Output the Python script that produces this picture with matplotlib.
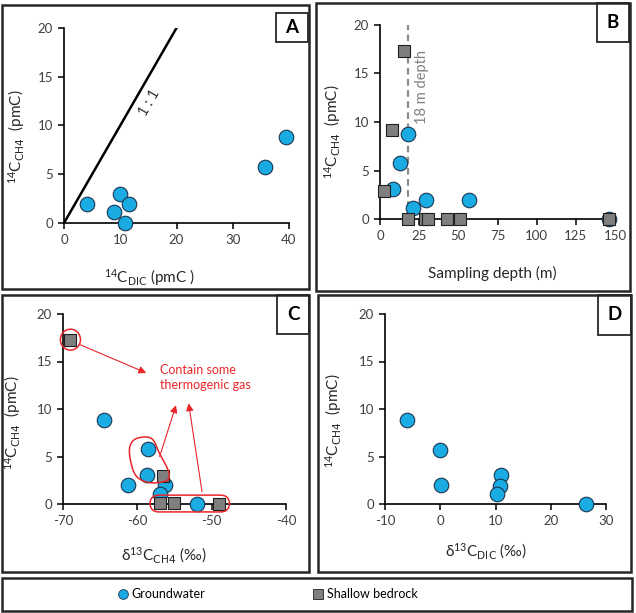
import numpy as np
import matplotlib
matplotlib.use("Agg")
import matplotlib.pyplot as plt
from matplotlib.patches import Rectangle, Ellipse, FancyBboxPatch, Polygon
from matplotlib.lines import Line2D

plt.rcParams['font.family'] = ['Lato', 'DejaVu Sans']
plt.rcParams['mathtext.default'] = 'regular'
plt.rcParams['axes.unicode_minus'] = False

# --- data ---
# A: 14C DIC vs 14C CH4 (groundwater)
a_dic = [4.0, 8.8, 10.0, 11.6, 10.8, 35.8, 39.4]
a_ch4 = [1.9, 1.1, 3.0, 1.9, 0.05, 5.7, 8.8]

# B: sampling depth vs 14C CH4
b_gw_depth = [8.1, 12.6, 17.7, 21.0, 29.4, 57.0, 146.0]
b_gw_ch4 = [3.1, 5.8, 8.8, 1.1, 2.0, 1.95, 0.0]
b_br_depth = [2.8, 7.5, 15.0, 18.0, 29.0, 30.5, 43.0, 51.0, 146.0]
b_br_ch4 = [2.9, 9.2, 17.3, 0.05, 0.05, 0.05, 0.05, 0.05, 0.05]
depth_cut = 18

# C: d13C CH4 vs 14C CH4
c_gw_d13 = [-64.5, -58.5, -58.7, -61.2, -56.3, -57.0, -52.0]
c_gw_ch4 = [8.85, 5.75, 3.1, 2.0, 2.0, 1.1, 0.03]
c_br_d13 = [-69.0, -56.5, -57.0, -55.1, -49.0]
c_br_ch4 = [17.3, 3.0, 0.07, 0.1, 0.05]

# D: d13C DIC vs 14C CH4 (groundwater)
d_d13 = [-6.0, 0.0, 0.2, 11.0, 10.8, 10.2, 26.4]
d_ch4 = [8.8, 5.7, 2.05, 3.05, 1.9, 1.1, 0.0]

W, H = 636, 613
fig = plt.figure(figsize=(W / 100, H / 100), dpi=100)

BLUE = '#1AABE3'
GREY = '#7F7F7F'
RED = '#E8262A'
ylab = r'$^{14}$C$_{\rm CH4}$  (pmC)'


def px_axes(l, t, r, b):
    return fig.add_axes([l / W, 1 - b / H, (r - l) / W, (b - t) / H])


def px_box(l, t, r, b, lw=1.8):
    fig.patches.append(Rectangle((l / W, 1 - b / H), (r - l) / W, (b - t) / H,
                                 transform=fig.transFigure, fill=False,
                                 edgecolor='#262626', lw=lw))


def letter(l, t, r, b, s):
    px_box(l, t, r, b, lw=1.3)
    fig.text((l + r) / 2 / W, 1 - (t + b) / 2 / H, s, ha='center', va='center',
             fontsize=13.5, fontweight='bold', color='black')


def style(ax, xlim, xticks):
    ax.set_xlim(*xlim)
    ax.set_ylim(0, 20)
    ax.set_xticks(xticks)
    ax.set_yticks([0, 5, 10, 15, 20])
    for s in ['top', 'right']:
        ax.spines[s].set_visible(False)
    for s in ['left', 'bottom']:
        ax.spines[s].set_linewidth(1.2)
        ax.spines[s].set_color('black')
    ax.tick_params(direction='out', length=4, width=1.1, labelsize=9.5,
                   colors='black', labelcolor='#404040', pad=4)
    ax.patch.set_alpha(0)


def labels(ax, xl, xpos, ypos):
    ax.set_xlabel(xl, fontsize=11, color='#262626', va='center')
    ax.xaxis.set_label_coords(*xpos)
    ax.set_ylabel(ylab, fontsize=11, color='#262626', va='center')
    ax.yaxis.set_label_coords(*ypos)


def gw(ax, x, y):
    ax.scatter(x, y, s=110, c=BLUE, edgecolors='#1a3550', linewidths=0.8,
               zorder=3, clip_on=False)


def br(ax, x, y):
    ax.scatter(x, y, marker='s', s=70, c=GREY, edgecolors='#202020',
               linewidths=0.8, zorder=4, clip_on=False)


# panel frames
px_box(2, 5, 309, 289)
px_box(316, 3, 630, 291)
px_box(2, 295, 309, 572)
px_box(318, 295, 631, 572)
px_box(2, 578, 632, 611)

# ---- A ----
ax = px_axes(64, 28, 289, 223)
style(ax, (0, 40), [0, 10, 20, 30, 40])
ax.plot([0, 20], [0, 20], color='black', lw=1.8, zorder=2)
ax.text(15.3, 12.3, '1 : 1', rotation=60, ha='center', va='center',
        fontsize=10.5, color='#333333')
gw(ax, a_dic, a_ch4)
labels(ax, r'$^{14}$C$_{\rm DIC}$ (pmC )', (0.38, -0.28), (-0.21, 0.44))
letter(276, 13, 308, 42, 'A')

# ---- B ----
ax = px_axes(380, 25, 615, 219)
style(ax, (0, 150), [0, 25, 50, 75, 100, 125, 150])
ax.plot([depth_cut, depth_cut], [0, 20], color='#8C8C8C', lw=1.6,
        ls=(0, (3, 2)), zorder=2)
ax.text(depth_cut + 8.5, 13.6, '18 m depth', rotation=90, ha='center',
        va='center', fontsize=10.5, color='#808080')
gw(ax, b_gw_depth, b_gw_ch4)
br(ax, b_br_depth, b_br_ch4)
labels(ax, 'Sampling depth (m)', (0.477, -0.28), (-0.2, 0.45))
letter(597, 3, 629, 42, 'B')

# ---- C ----
ax = px_axes(63, 314, 286, 504)
style(ax, (-70, -40), [-70, -60, -50, -40])
gw(ax, c_gw_d13, c_gw_ch4)
br(ax, c_br_d13, c_br_ch4)
ax.add_patch(Ellipse((-69.0, 17.3), 2.7, 2.2, fill=False, ec=RED, lw=1.1,
                     clip_on=False, zorder=5))
blob = np.array([(-61.0, 6.05), (-60.1, 6.9), (-58.1, 6.9), (-57.0, 5.3),
                 (-55.8, 3.4), (-56.05, 2.46), (-58.3, 2.25), (-60.1, 2.9),
                 (-60.9, 4.5)])
# smooth closed outline (Catmull-Rom)
pts = []
n = len(blob)
for i in range(n):
    p0, p1, p2, p3 = blob[i - 1], blob[i], blob[(i + 1) % n], blob[(i + 2) % n]
    for t in np.linspace(0, 1, 12, endpoint=False):
        pts.append(0.5 * ((2 * p1) + (-p0 + p2) * t
                          + (2 * p0 - 5 * p1 + 4 * p2 - p3) * t ** 2
                          + (-p0 + 3 * p1 - 3 * p2 + p3) * t ** 3))
ax.add_patch(Polygon(pts, closed=True, fill=False, ec=RED, lw=1.1, zorder=5))
ax.add_patch(FancyBboxPatch((-58.0, -0.6), 10.1, 1.3,
                            boxstyle='round,pad=0.3,rounding_size=1.2',
                            mutation_aspect=0.78, fill=False, ec=RED, lw=1.1,
                            clip_on=False, zorder=5))
arrow = dict(arrowstyle='-|>', color=RED, lw=0.8, mutation_scale=11,
             shrinkA=0, shrinkB=0)
ax.annotate('', xy=(-58.8, 13.8), xytext=(-67.8, 16.8), arrowprops=arrow)
ax.annotate('', xy=(-54.8, 10.4), xytext=(-57.0, 5.0), arrowprops=arrow)
ax.annotate('', xy=(-53.1, 10.6), xytext=(-51.3, 1.3), arrowprops=arrow)
ax.text(-57.0, 14.7, 'Contain some\nthermogenic gas', ha='left', va='top',
        fontsize=9, color=RED, linespacing=1.3)
labels(ax, r'$\delta^{13}$C$_{\rm CH4}$ (‰)', (0.45, -0.27), (-0.224, 0.43))
letter(277, 295, 309, 334, 'C')

# ---- D ----
ax = px_axes(385, 314, 606, 504)
style(ax, (-10, 30), [-10, 0, 10, 20, 30])
gw(ax, d_d13, d_ch4)
labels(ax, r'$\delta^{13}$C$_{\rm DIC}$ (‰)', (0.457, -0.25), (-0.235, 0.44))
letter(598, 295, 631, 335, 'D')

# ---- legend ----
handles = [Line2D([], [], ls='none', marker='o', ms=7, mfc=BLUE,
                  mec='#1a3550', mew=0.6),
           Line2D([], [], ls='none', marker='s', ms=6.5, mfc=GREY,
                  mec='#202020', mew=0.6)]
fig.legend(handles, ['Groundwater', 'Shallow bedrock'], ncol=2,
           loc='center left', bbox_to_anchor=(118 / W, 1 - 594 / H),
           frameon=False, fontsize=9, handlelength=0.8, handletextpad=0.3,
           columnspacing=8.6, borderpad=0, borderaxespad=0)

fig.savefig('out.png', dpi=100)
